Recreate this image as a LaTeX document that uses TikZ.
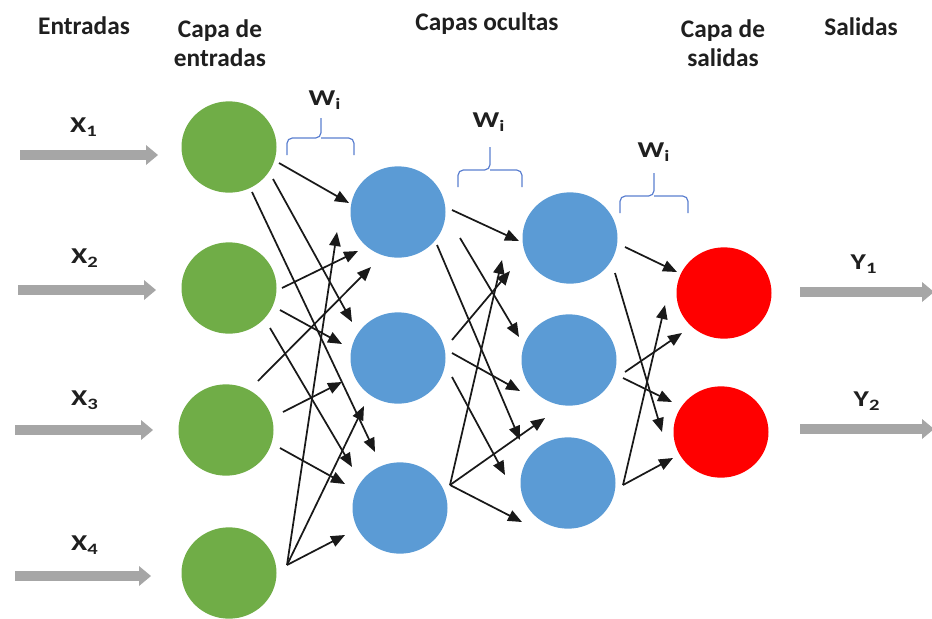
\documentclass[tikz,border=0pt]{standalone}
\usepackage{fontspec}
\setmainfont{Carlito}
\usetikzlibrary{calc,arrows.meta,shapes.geometric}

\definecolor{nodegreen}{HTML}{70AD47}
\definecolor{nodeblue}{HTML}{5B9BD5}
\definecolor{nodered}{HTML}{FF0000}
\definecolor{flowgray}{HTML}{A6A6A6}
\definecolor{bracecol}{HTML}{5B7FD0}
\definecolor{textcol}{HTML}{1F1F1F}

\tikzset{
  neuron/.style={ellipse, minimum width=71.25pt, minimum height=68.5pt, inner sep=0pt, draw=none},
  link/.style={line width=1.3pt, black!90, -{Triangle[length=10.5pt,width=8.5pt]}},
  flow/.style={line width=7.5pt, flowgray, -{Triangle[length=9pt,width=15pt,line width=0pt]}},
  wbrace/.style={bracecol, line width=0.9pt, rounded corners=4pt},
  headfont/.style={font=\bfseries\fontsize{19}{21.75}\selectfont, text=textcol, align=center, inner sep=0pt},
  labfont/.style={font=\bfseries\fontsize{17}{19}\selectfont, text=textcol, inner sep=0pt}
}

\begin{document}
\begin{tikzpicture}[x=0.75pt,y=-0.75pt]
\useasboundingbox (0,0) rectangle (932,618);

% column headings
\node[headfont] (hin)   at (84,26)  {Entradas};
\node[headfont] (hinl)  at (220,43) {Capa de\\entradas};
\node[headfont] (hhid)  at (487,24) {Capas ocultas};
\node[headfont] (houtl) at (723,43) {Capa de\\salidas};
\node[headfont] (hout)  at (861,27) {Salidas};

% neurons
\node[neuron, fill=nodegreen] (g1) at (229,147) {};
\node[neuron, fill=nodegreen] (g2) at (229,288) {};
\node[neuron, fill=nodegreen] (g3) at (226,430) {};
\node[neuron, fill=nodegreen] (g4) at (229,573) {};

\node[neuron, fill=nodeblue] (b1) at (398,212) {};
\node[neuron, fill=nodeblue] (b2) at (398,358) {};
\node[neuron, fill=nodeblue] (b3) at (400,508) {};

\node[neuron, fill=nodeblue] (c1) at (570,238) {};
\node[neuron, fill=nodeblue] (c2) at (569,360) {};
\node[neuron, fill=nodeblue] (c3) at (568,483) {};

\node[neuron, fill=nodered] (r1) at (724,293) {};
\node[neuron, fill=nodered] (r2) at (721,432) {};

% input and output flows
\coordinate (xa1) at (20,155);  \coordinate (xb1) at (158,155);
\coordinate (xa2) at (18,290);  \coordinate (xb2) at (156,290);
\coordinate (xa3) at (15,430);  \coordinate (xb3) at (153,430);
\coordinate (xa4) at (15,576);  \coordinate (xb4) at (151,576);
\coordinate (ya1) at (800,292); \coordinate (yb1) at (934,292);
\coordinate (ya2) at (800,429); \coordinate (yb2) at (934,429);
\draw[flow] (xa1) -- (xb1);
\draw[flow] (xa2) -- (xb2);
\draw[flow] (xa3) -- (xb3);
\draw[flow] (xa4) -- (xb4);
\draw[flow] (ya1) -- (yb1);
\draw[flow] (ya2) -- (yb2);

\node[labfont] (lx1) at (84,127) {\scalebox{1.3}[1]{X\textsubscript{1}}};
\node[labfont] (lx2) at (85,258) {\scalebox{1.3}[1]{X\textsubscript{2}}};
\node[labfont] (lx3) at (85,400) {\scalebox{1.3}[1]{X\textsubscript{3}}};
\node[labfont] (lx4) at (85,545) {\scalebox{1.3}[1]{X\textsubscript{4}}};
\node[labfont] (ly1) at (864,264) {\scalebox{1.3}[1]{Y\textsubscript{1}}};
\node[labfont] (ly2) at (867,401) {\scalebox{1.3}[1]{Y\textsubscript{2}}};

% weight braces
\draw[wbrace] (287,155) -- (287,138) -- (321,138) -- (321,118);
\draw[wbrace] (354,155) -- (354,138) -- (321,138);
\draw[wbrace] (458,187) -- (458,170) -- (490,170) -- (490,147);
\draw[wbrace] (522,187) -- (522,170) -- (490,170);
\draw[wbrace] (620,213) -- (620,196) -- (654,196) -- (654,173);
\draw[wbrace] (688,213) -- (688,196) -- (654,196);

\node[labfont] (w1) at (325,100) {\scalebox{1.3}[1]{W\textsubscript{i}}};
\node[labfont] (w2) at (489,122) {\scalebox{1.3}[1]{W\textsubscript{i}}};
\node[labfont] (w3) at (654,152) {\scalebox{1.3}[1]{W\textsubscript{i}}};

% input layer to first hidden layer
\draw[link] ($(g1)+(50,16)$)  -- ($(b1)+(-49,-9)$);
\draw[link] ($(g1)+(44,32)$)  -- ($(b2)+(-46,-36)$);
\draw[link] ($(g1)+(23,45)$)  -- ($(b3)+(-25,-56)$);
\draw[link] ($(g2)+(53,0)$)   -- ($(b1)+(-40,39)$);
\draw[link] ($(g2)+(51,22)$)  -- ($(b2)+(-56,-14)$);
\draw[link] ($(g2)+(41,40)$)  -- ($(b3)+(-48,-41)$);
\draw[link] ($(g3)+(32,-49)$) -- ($(b1)+(-27,55)$);
\draw[link] ($(g3)+(57,-18)$) -- ($(b2)+(-56,24)$);
\draw[link] ($(g3)+(54,18)$)  -- ($(b3)+(-55,-24)$);
\draw[link] ($(g4)+(58,-8)$)  -- ($(b1)+(-61,20)$);
\draw[link] ($(g4)+(58,-8)$)  -- ($(b2)+(-34,48)$);
\draw[link] ($(g4)+(58,-8)$)  -- ($(b3)+(-55,27)$);

% first hidden layer to second hidden layer
\draw[link] ($(b1)+(54,-2)$)  -- ($(c1)+(-51,3)$);
\draw[link] ($(b1)+(62,26)$)  -- ($(c2)+(-50,-23)$);
\draw[link] ($(b1)+(39,33)$)  -- ($(c3)+(-48,-43)$);
\draw[link] ($(b2)+(54,-18)$) -- ($(c1)+(-60,33)$);
\draw[link] ($(b2)+(54,-5)$)  -- ($(c2)+(-49,31)$);
\draw[link] ($(b2)+(54,19)$)  -- ($(c3)+(-63,-8)$);
\draw[link] ($(b3)+(50,-23)$) -- ($(c1)+(-68,22)$);
\draw[link] ($(b3)+(50,-23)$) -- ($(c2)+(-24,58)$);
\draw[link] ($(b3)+(50,-23)$) -- ($(c3)+(-46,39)$);

% second hidden layer to output layer
\draw[link] ($(c1)+(55,9)$)   -- ($(r1)+(-47,-21)$);
\draw[link] ($(c1)+(45,35)$)  -- ($(r2)+(-59,0)$);
\draw[link] ($(c2)+(56,12)$)  -- ($(r1)+(-42,40)$);
\draw[link] ($(c2)+(54,18)$)  -- ($(r2)+(-49,-30)$);
\draw[link] ($(c3)+(55,2)$)   -- ($(r1)+(-59,12)$);
\draw[link] ($(c3)+(55,2)$)   -- ($(r2)+(-48,26)$);
\end{tikzpicture}
\end{document}
